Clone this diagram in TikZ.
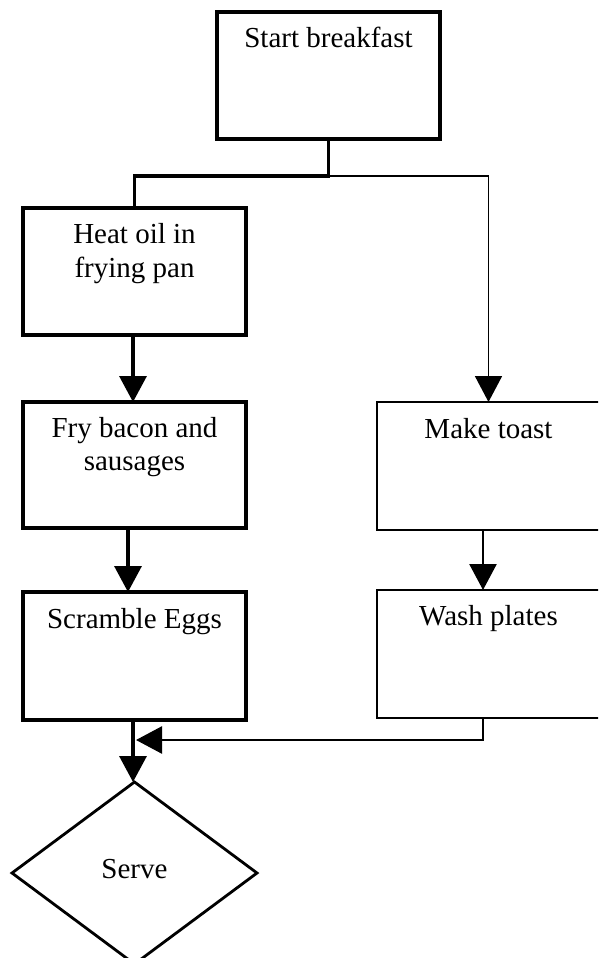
\documentclass[tikz,border=0pt]{standalone}
\usepackage{fontspec}
\setmainfont{Liberation Serif}
\usetikzlibrary{arrows.meta,shapes.geometric}
\begin{document}
\begin{tikzpicture}[x=1pt,y=-1pt,
  boxthick/.style={draw, rectangle, line width=3.3pt, minimum width=223pt, inner sep=0pt, outer sep=0pt},
  boxthin/.style={draw, rectangle, line width=1.4pt, minimum width=223pt, inner sep=0pt, outer sep=0pt},
  decide/.style={draw, diamond, line width=2.8pt, minimum width=245pt, minimum height=182pt, inner sep=0pt, outer sep=0pt},
  txt/.style={font=\fontsize{29}{33}\selectfont, align=center, inner sep=0pt, anchor=base},
  thickline/.style={line width=3.3pt},
  medline/.style={line width=2.6pt},
  thinline/.style={line width=1.7pt},
  tip/.style={-{Triangle[width=27pt,length=26pt]}}]
\useasboundingbox (0,0) rectangle (598,958);
\clip (0,0) rectangle (598,958);

% boxes
\node[boxthick, minimum height=127pt] (start) at (328.5,75.5) {};
\node[boxthick, minimum height=127pt] (heat) at (134.5,271.5) {};
\node[boxthick, minimum height=126pt] (fry) at (134.5,465) {};
\node[boxthick, minimum height=128pt] (scramble) at (134.5,656) {};
\node[boxthin, minimum height=128pt] (toast) at (488.5,466) {};
\node[boxthin, minimum height=128pt] (wash) at (488.5,654) {};
\node[decide] (serve) at (134.5,873) {};

% texts
\node[txt] (startT) at (328.5,48) {Start breakfast};
\node[txt] (heatT1) at (134.5,243) {Heat oil in};
\node[txt] (heatT2) at (134.5,277) {frying pan};
\node[txt] (fryT1) at (134.5,437) {Fry bacon and};
\node[txt] (fryT2) at (134.5,470) {sausages};
\node[txt] (scrT) at (134.5,628) {Scramble Eggs};
\node[txt] (toastT) at (488.5,438) {Make toast};
\node[txt] (washT) at (488.5,625) {Wash plates};
\node[txt] (serveT) at (134.5,878) {Serve};

% connectors
\coordinate (split) at ([yshift=-37pt]start.south);
\draw[thickline] (start.south) -- (split) -| (heat.north);
\draw[thinline, tip] (split) -| (toast.north);
\draw[thickline, tip] ([xshift=-1.5pt]heat.south) -- ([xshift=-1.5pt]fry.north);
\draw[thickline, tip] ([xshift=-6.5pt]fry.south) -- ([xshift=-6.5pt]scramble.north);
\draw[medline, tip] ([xshift=-5.5pt]toast.south) -- ([xshift=-5.5pt]wash.north);
\coordinate (ret) at ([xshift=-5.5pt,yshift=-22pt]wash.south);
\coordinate (join) at ([xshift=1.5pt]ret -| scramble.south);
\draw[medline, tip] ([xshift=-5.5pt]wash.south) -- (ret) -- (join);
\draw[thickline, tip] ([xshift=-1.5pt]scramble.south) -- ([xshift=-1.5pt]serve.north);
\end{tikzpicture}
\end{document}
